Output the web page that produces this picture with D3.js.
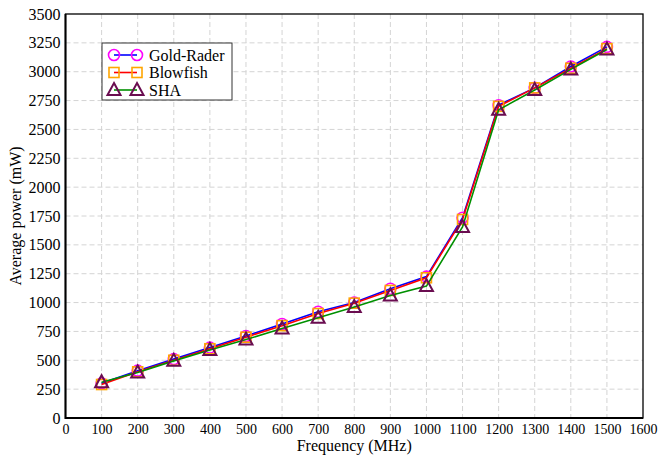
<!DOCTYPE html>
<html lang="en">
	<head>
		<meta charset="utf-8">
		<title>Average power vs frequency</title>
		<script type="text/javascript" src="https://d3js.org/d3.v7.min.js"></script>
		<style type="text/css">
			body { margin: 0; background: white; }
		</style>
	</head>
	<body>
		<svg id="chart" width="660" height="460" style="display:block"></svg>
		<script type="text/javascript">
			// data
			const frequency = [100, 200, 300, 400, 500, 600, 700, 800, 900, 1000, 1100, 1200, 1300, 1400, 1500];
			const goldRader = [300, 410, 510, 610, 710, 815, 920, 1000, 1120, 1225, 1735, 2710, 2860, 3045, 3215];
			const blowfish = [290, 400, 500, 600, 700, 800, 905, 995, 1105, 1215, 1720, 2700, 2860, 3030, 3200];
			const sha = [310, 395, 495, 590, 680, 775, 868, 962, 1062, 1143, 1655, 2670, 2842, 3020, 3192];
			const xTicks = d3.range(0, 1601, 100);
			const yTicks = d3.range(0, 3501, 250);
			const seriesNames = ["Gold-Rader", "Blowfish", "SHA"];

			const plotLeft = 65.5, plotRight = 643, plotTop = 14, plotBottom = 418;
			const serif = "'Liberation Serif'";

			const x = d3.scaleLinear().domain([0, 1600]).range([plotLeft, plotRight]);
			const y = d3.scaleLinear().domain([0, 3500]).range([plotBottom, plotTop]);

			const svg = d3.select("#chart");

			// grid
			svg.append("g").selectAll("line").data(xTicks.slice(1, -1)).enter()
				.append("line")
				.attr("x1", d => x(d)).attr("x2", d => x(d))
				.attr("y1", plotTop).attr("y2", plotBottom)
				.attr("stroke", "#d4d4d4").attr("stroke-dasharray", "5,3");
			svg.append("g").selectAll("line").data(yTicks.slice(1, -1)).enter()
				.append("line")
				.attr("x1", plotLeft).attr("x2", plotRight)
				.attr("y1", d => y(d)).attr("y2", d => y(d))
				.attr("stroke", "#d4d4d4").attr("stroke-dasharray", "5,3");

			// axes (labels only, no tick marks)
			const xAxis = svg.append("g")
				.attr("transform", "translate(0," + plotBottom + ")")
				.call(d3.axisBottom(x).tickValues(xTicks).tickFormat(d3.format("d")).tickSize(0).tickPadding(6));
			xAxis.select(".domain").remove();
			xAxis.selectAll("text").attr("fill", "#000")
				.style("font-family", serif).style("font-size", "14px");

			const yAxis = svg.append("g")
				.attr("transform", "translate(" + plotLeft + ",0)")
				.call(d3.axisLeft(y).tickValues(yTicks).tickFormat(d3.format("d")).tickSize(0).tickPadding(5));
			yAxis.select(".domain").remove();
			yAxis.selectAll("text").attr("fill", "#000")
				.style("font-family", serif).style("font-size", "16px");

			// frame, with heavier left and bottom axis lines
			svg.append("rect")
				.attr("x", plotLeft).attr("y", plotTop)
				.attr("width", plotRight - plotLeft).attr("height", plotBottom - plotTop)
				.attr("fill", "none").attr("stroke", "#000").attr("stroke-width", 1.3);
			svg.append("path")
				.attr("d", "M" + plotLeft + "," + plotTop + "V" + plotBottom + "H" + plotRight)
				.attr("fill", "none").attr("stroke", "#000").attr("stroke-width", 2);

			// axis titles
			svg.append("text")
				.attr("x", (plotLeft + plotRight) / 2).attr("y", 451)
				.attr("text-anchor", "middle")
				.style("font-family", serif).style("font-size", "16px")
				.text("Frequency (MHz)");
			svg.append("text")
				.attr("transform", "translate(21," + ((plotTop + plotBottom) / 2) + ") rotate(-90)")
				.attr("text-anchor", "middle")
				.style("font-family", serif).style("font-size", "16px")
				.text("Average power (mW)");

			// marker drawers
			const drawCircle = (g, cx, cy) => g.append("circle")
				.attr("cx", cx).attr("cy", cy).attr("r", 5.5)
				.attr("fill", "none").attr("stroke", "#ff00ff").attr("stroke-width", 1.6);
			const drawSquare = (g, cx, cy) => g.append("rect")
				.attr("x", cx - 5).attr("y", cy - 5).attr("width", 10).attr("height", 10)
				.attr("fill", "none").attr("stroke", "#ffa500").attr("stroke-width", 1.6);
			const drawTriangle = (g, cx, cy) => g.append("path")
				.attr("d", "M" + cx + "," + (cy - 7) + "L" + (cx + 6.5) + "," + (cy + 5) + "L" + (cx - 6.5) + "," + (cy + 5) + "Z")
				.attr("fill", "none").attr("stroke", "#6a0d50").attr("stroke-width", 2);

			const series = [
				{ values: goldRader, color: "#0000ff", marker: drawCircle },
				{ values: blowfish, color: "#ff0000", marker: drawSquare },
				{ values: sha, color: "#009000", marker: drawTriangle }
			];

			const line = d3.line()
				.x((d, i) => x(frequency[i]))
				.y(d => y(d));

			series.forEach(s => {
				const g = svg.append("g");
				g.append("path")
					.datum(s.values)
					.attr("d", line)
					.attr("fill", "none").attr("stroke", s.color).attr("stroke-width", 1.6);
				s.values.forEach((v, i) => s.marker(g, x(frequency[i]), y(v)));
			});

			// legend
			const legend = svg.append("g");
			legend.append("rect")
				.attr("x", 102).attr("y", 43).attr("width", 130).attr("height", 57)
				.attr("fill", "white").attr("stroke", "#333").attr("stroke-width", 1);
			series.forEach((s, i) => {
				const ly = 55 + i * 17.5;
				legend.append("line")
					.attr("x1", 114).attr("x2", 137).attr("y1", ly).attr("y2", ly)
					.attr("stroke", s.color).attr("stroke-width", 1.6);
				s.marker(legend, 114, ly);
				s.marker(legend, 137, ly);
				legend.append("text")
					.attr("x", 149).attr("y", ly + 5.5)
					.style("font-family", serif).style("font-size", "16px")
					.text(seriesNames[i]);
			});
		</script>
	</body>
</html>
